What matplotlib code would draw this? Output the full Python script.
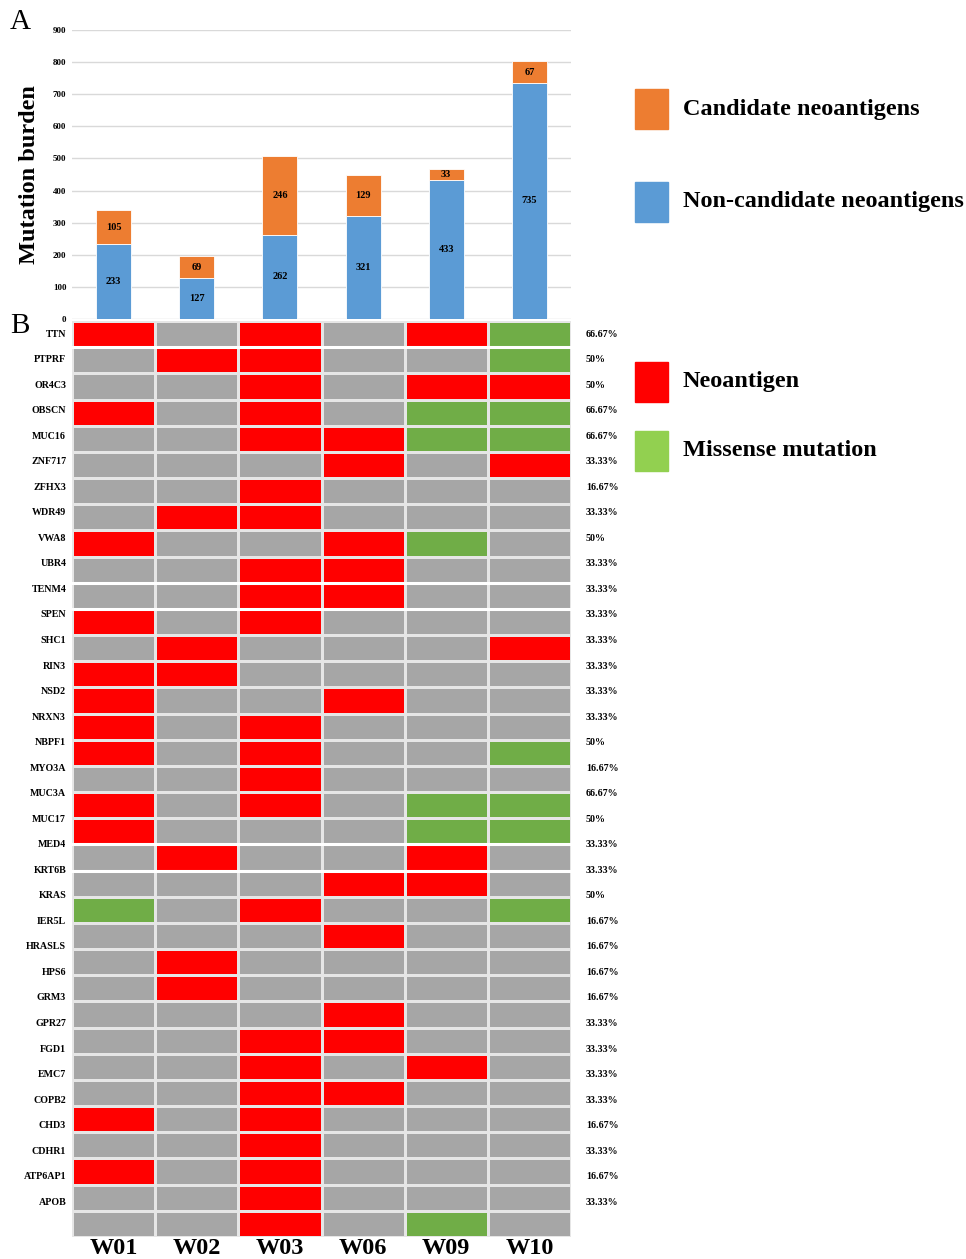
import matplotlib
matplotlib.use('Agg')
import matplotlib.pyplot as plt
import numpy as np
from matplotlib.colors import ListedColormap
from matplotlib.patches import Rectangle

plt.rcParams['font.family'] = ['Liberation Serif', 'DejaVu Serif']
plt.rcParams['font.weight'] = 'bold'
BOLD = 'bold'

# данные панели A
samples = ['W01', 'W02', 'W03', 'W06', 'W09', 'W10']
non_candidate = [233, 127, 262, 321, 433, 735]
candidate = [105, 69, 246, 129, 33, 67]

# данные панели B: 0 - нет, 1 - неоантиген, 2 - миссенс-мутация
genes = ['TTN', 'PTPRF', 'OR4C3', 'OBSCN', 'MUC16', 'ZNF717', 'ZFHX3', 'WDR49',
         'VWA8', 'UBR4', 'TENM4', 'SPEN', 'SHC1', 'RIN3', 'NSD2', 'NRXN3',
         'NBPF1', 'MYO3A', 'MUC3A', 'MUC17', 'MED4', 'KRT6B', 'KRAS', 'IER5L',
         'HRASLS', 'HPS6', 'GRM3', 'GPR27', 'FGD1', 'EMC7', 'COPB2', 'CHD3',
         'CDHR1', 'ATP6AP1', 'APOB']
status = [
    [1, 0, 1, 0, 1, 2],
    [0, 1, 1, 0, 0, 2],
    [0, 0, 1, 0, 1, 1],
    [1, 0, 1, 0, 2, 2],
    [0, 0, 1, 1, 2, 2],
    [0, 0, 0, 1, 0, 1],
    [0, 0, 1, 0, 0, 0],
    [0, 1, 1, 0, 0, 0],
    [1, 0, 0, 1, 2, 0],
    [0, 0, 1, 1, 0, 0],
    [0, 0, 1, 1, 0, 0],
    [1, 0, 1, 0, 0, 0],
    [0, 1, 0, 0, 0, 1],
    [1, 1, 0, 0, 0, 0],
    [1, 0, 0, 1, 0, 0],
    [1, 0, 1, 0, 0, 0],
    [1, 0, 1, 0, 0, 2],
    [0, 0, 1, 0, 0, 0],
    [1, 0, 1, 0, 2, 2],
    [1, 0, 0, 0, 2, 2],
    [0, 1, 0, 0, 1, 0],
    [0, 0, 0, 1, 1, 0],
    [2, 0, 1, 0, 0, 2],
    [0, 0, 0, 1, 0, 0],
    [0, 1, 0, 0, 0, 0],
    [0, 1, 0, 0, 0, 0],
    [0, 0, 0, 1, 0, 0],
    [0, 0, 1, 1, 0, 0],
    [0, 0, 1, 0, 1, 0],
    [0, 0, 1, 1, 0, 0],
    [1, 0, 1, 0, 0, 0],
    [0, 0, 1, 0, 0, 0],
    [1, 0, 1, 0, 0, 0],
    [0, 0, 1, 0, 0, 0],
    [0, 0, 1, 0, 2, 0],
]
freq = ['66.67%', '50%', '50%', '66.67%', '66.67%', '33.33%', '16.67%', '33.33%',
        '50%', '33.33%', '33.33%', '33.33%', '33.33%', '33.33%', '33.33%', '33.33%',
        '50%', '16.67%', '66.67%', '50%', '33.33%', '33.33%', '50%', '16.67%',
        '16.67%', '16.67%', '16.67%', '33.33%', '33.33%', '33.33%', '33.33%', '16.67%',
        '33.33%', '16.67%', '33.33%']

W, H = 966, 1259
fig = plt.figure(figsize=(W / 100, H / 100), dpi=100)

# A: столбчатая диаграмма
ax1 = fig.add_axes([72 / W, 1 - 319 / H, 499 / W, 289 / H])
x = np.arange(len(samples))
ax1.bar(x, non_candidate, width=0.42, color='#5B9BD5', edgecolor='white', lw=0.6, zorder=3)
ax1.bar(x, candidate, width=0.42, bottom=non_candidate, color='#ED7D31',
        edgecolor='white', lw=0.6, zorder=3)
for i in range(len(samples)):
    ax1.text(i, non_candidate[i] / 2, str(non_candidate[i]), ha='center', va='center',
             fontsize=7.5, fontweight=BOLD, zorder=4)
    ax1.text(i, non_candidate[i] + candidate[i] / 2, str(candidate[i]), ha='center',
             va='center', fontsize=7.5, fontweight=BOLD, zorder=4)
ax1.set_xlim(-0.5, 5.5)
ax1.set_ylim(0, 900)
ax1.set_yticks(range(0, 901, 100))
ax1.set_yticklabels([str(v) for v in range(0, 901, 100)], fontweight=BOLD)
ax1.set_xticks([])
ax1.tick_params(axis='y', length=0, labelsize=6.5, pad=4)
ax1.grid(axis='y', color='#d9d9d9', lw=1, zorder=0)
for s in ax1.spines.values():
    s.set_visible(False)
fig.text(30 / W, 1 - 175 / H, 'Mutation burden', rotation=90, ha='center', va='center',
         fontsize=17.5, fontweight=BOLD)

# B: тепловая карта
ax2 = fig.add_axes([72 / W, 1 - 1237 / H, 499 / W, 916 / H])
data = np.array(status)
cmap = ListedColormap(['#A6A6A6', '#FF0000', '#70AD47'])
ax2.pcolormesh(data, cmap=cmap, vmin=-0.5, vmax=2.5, edgecolors='#e6e6e6', linewidth=0.8)
ax2.set_xlim(0, 6)
ax2.set_ylim(len(genes), 0)
for b in [1, 10, 11, 20, 21]:
    ax2.axhline(b, color='white', lw=2.2)
step = 0.9756
for i, g in enumerate(genes):
    ax2.text(-0.07, 0.5 + i * step, g, ha='right', va='center', fontsize=7.2, fontweight=BOLD)
    ax2.text(6.18, 0.5 + i * step, freq[i], ha='left', va='center', fontsize=7.2,
             fontweight=BOLD)
ax2.set_xticks(x + 0.5)
ax2.set_xticklabels(samples, fontsize=17.5, fontweight=BOLD)
ax2.set_yticks([])
ax2.tick_params(axis='x', length=0, pad=1)
for s in ax2.spines.values():
    s.set_visible(False)

# панельные буквы
fig.text(20 / W, 1 - 22 / H, 'A', ha='center', va='center', fontsize=21, fontweight='normal')
fig.text(20 / W, 1 - 326 / H, 'B', ha='center', va='center', fontsize=21, fontweight='normal')

# легенды
legend_items = [
    ('#ED7D31', 'Candidate neoantigens', 109),
    ('#5B9BD5', 'Non-candidate neoantigens', 202),
    ('#FF0000', 'Neoantigen', 382),
    ('#92D050', 'Missense mutation', 451),
]
for col, lab, yc in legend_items:
    fig.patches.append(Rectangle((635 / W, 1 - (yc + 20) / H), 33 / W, 40 / H,
                                 transform=fig.transFigure, color=col))
    fig.text(683 / W, 1 - yc / H, lab, ha='left', va='center', fontsize=17.5,
             fontweight=BOLD)

fig.savefig('out.png', dpi=100)
